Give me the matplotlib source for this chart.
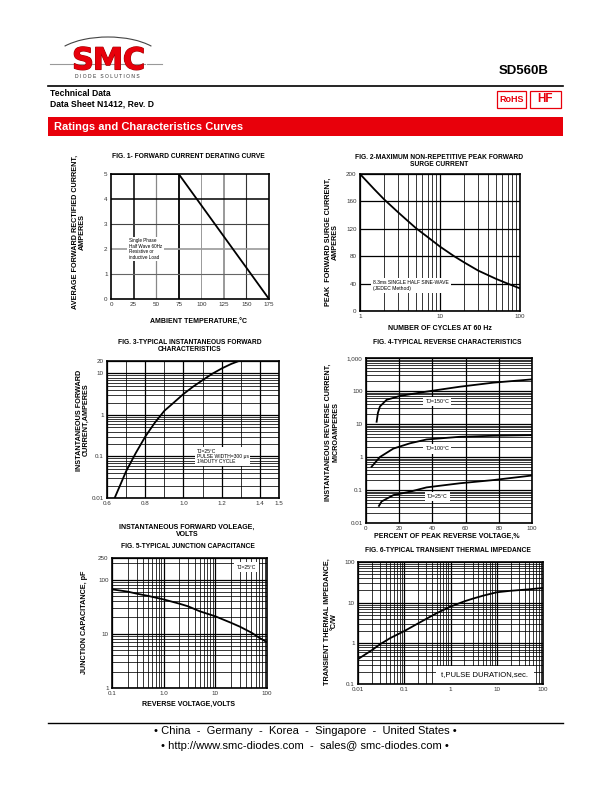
#import relevant libraries
import matplotlib.pyplot as plt
from matplotlib.patches import Rectangle, Arc, Polygon
from matplotlib.ticker import NullFormatter
import matplotlib.patheffects as pe

plt.rcParams['font.family'] = ['Liberation Sans', 'DejaVu Sans']

#fig 1 - derating curve
derate_temp = [0, 75, 175]
derate_amps = [5, 5, 0]

#fig 2 - surge current
surge_cycles = [1, 1.5, 2, 3, 4, 5, 7, 10, 15, 20, 30, 50, 70, 100]
surge_amps = [200, 178, 163, 144, 131, 121, 108, 94, 80, 71, 59, 47, 40, 33]

#fig 3 - forward characteristics
fwd_volts = [0.64, 0.7, 0.75, 0.8, 0.85, 0.9, 0.95, 1.0, 1.05, 1.1, 1.15, 1.2, 1.25, 1.29]
fwd_amps = [0.01, 0.044, 0.12, 0.3, 0.65, 1.26, 2.0, 3.2, 4.8, 6.9, 9.8, 13.2, 17, 20]

#fig 4 - reverse characteristics
rev_pct_150 = [6.4, 7.2, 8.4, 12.4, 20.5, 36.5, 56.6, 76.7, 100]
rev_ua_150 = [11.7, 22, 34, 54, 71, 96, 135, 179, 225]
rev_pct_100 = [3.4, 8.4, 16.5, 26.5, 36.5, 56.6, 76.7, 100]
rev_ua_100 = [0.51, 1.0, 1.8, 2.6, 3.4, 4.1, 4.4, 4.6]
rev_pct_25 = [7.8, 9.4, 16.5, 26.5, 36.5, 56.6, 76.7, 100]
rev_ua_25 = [0.033, 0.045, 0.07, 0.089, 0.12, 0.16, 0.2, 0.275]

#fig 5 - junction capacitance
cap_volts = [0.1, 0.2, 0.3, 0.5, 1, 2, 3, 5, 10, 20, 30, 50, 70, 100]
cap_pf = [66, 60, 55, 50, 43, 36, 32, 26, 21, 16, 13.5, 10.5, 8.5, 7]

#fig 6 - transient thermal impedance
pulse_sec = [0.01, 0.02, 0.03, 0.05, 0.1, 0.2, 0.3, 0.5, 1, 2, 3, 5, 10, 20, 50, 100]
zth = [0.41, 0.68, 0.95, 1.35, 2.0, 3.1, 4.0, 5.5, 8, 10.8, 12.5, 14.8, 18, 19.6, 21.3, 23]

W, H = 612, 792
RED = '#e8000b'
fig = plt.figure(figsize=(6.12, 7.92), dpi=100)

#page layer in pixel coordinates
page = fig.add_axes([0, 0, 1, 1])
page.set_xlim(0, W)
page.set_ylim(H, 0)
page.axis('off')

#logo
page.add_patch(Arc((108, 62), 112, 50, theta1=200, theta2=340, color='#444', lw=0.8))
page.plot([50, 162], [64, 64], color='#999', lw=0.8)
for ch, xc in zip('SMC', [83, 108, 134]):
    page.text(xc, 61, ch, color=RED, fontsize=22, fontweight='heavy', family='DejaVu Sans',
              ha='center', va='center',
              path_effects=[pe.withStroke(linewidth=0.8, foreground='#a00000')])
page.add_patch(Polygon([[139, 57.5], [139, 64.5], [145, 61]], closed=True, fill=False, ec='white', lw=0.6))
page.plot([145.5, 145.5], [57.5, 64.5], color='white', lw=0.6)
page.text(107, 77, 'D I O D E   S O L U T I O N S', fontsize=3.6, color='#333', ha='center', va='center')

#header
page.text(549, 71, 'SD560B', fontsize=9.5, fontweight='bold', ha='right', va='center')
page.plot([48, 563], [86, 86], color='black', lw=1.2)
page.text(50, 93, 'Technical Data', fontsize=6.2, fontweight='bold', va='center')
page.text(50, 104, 'Data Sheet N1412, Rev. D', fontsize=6.2, fontweight='bold', va='center')
page.add_patch(Rectangle((497, 91), 29, 17, fill=False, ec=RED, lw=0.9))
page.text(511.5, 99.5, 'RoHS', color=RED, fontsize=6.5, fontweight='bold', ha='center', va='center')
page.add_patch(Rectangle((530, 91), 31, 17, fill=False, ec=RED, lw=0.9))
page.text(545.5, 99.5, 'HF', color=RED, fontsize=8.5, fontweight='bold', ha='center', va='center')
page.add_patch(Rectangle((48, 117), 515, 19, color=RED, lw=0))
page.text(54, 126.5, 'Ratings and Characteristics Curves', color='white', fontsize=8, fontweight='bold', va='center')

#footer
page.plot([48, 563], [723, 723], color='black', lw=1.0)
page.text(305, 731, '\u2022 China  -  Germany  -  Korea  -  Singapore  -  United States \u2022', fontsize=8, ha='center', va='center')
page.text(305, 746, '\u2022 http://www.smc-diodes.com  -  sales@ smc-diodes.com \u2022', fontsize=8, ha='center', va='center')

def chart(x0, y0, x1, y1):
    ax = fig.add_axes([x0 / W, 1 - y1 / H, (x1 - x0) / W, (y1 - y0) / H])
    ax.tick_params(which='both', length=0, labelsize=4.5, labelcolor='#333', pad=2.5)
    for s in ax.spines.values():
        s.set_linewidth(1.2)
    return ax

def label(x, y, s, rot=0, size=5.2):
    page.text(x, y, s, rotation=rot, fontsize=size, fontweight='bold', ha='center', va='center',
              multialignment='center', linespacing=1.0)

def loggrid(ax):
    ax.grid(True, which='major', color='black', lw=0.9)
    ax.grid(True, which='minor', color='black', lw=0.55)
    ax.xaxis.set_minor_formatter(NullFormatter())
    ax.yaxis.set_minor_formatter(NullFormatter())

box = dict(fc='white', ec='none', pad=1.2)

#FIG 1
ax1 = chart(111, 174, 269, 299)
ax1.plot(derate_temp, derate_amps, color='black', lw=1.3, zorder=3)
ax1.set_xlim(0, 175)
ax1.set_ylim(0, 5)
ax1.set_xticks([0, 25, 50, 75, 100, 125, 150, 175])
ax1.set_yticks([0, 1, 2, 3, 4, 5])
for xv, c, w in zip([25, 50, 75, 100, 125, 150], ['k', '#888', 'k', '#999', '#888', '#333'], [1.1, 0.9, 1.3, 0.7, 1.2, 0.8]):
    ax1.axvline(xv, color=c, lw=w, zorder=1)
for yv, c, w in zip([1, 2, 3, 4], ['#666', '#999', '#444', 'k'], [0.8, 1.2, 0.8, 1.1]):
    ax1.axhline(yv, color=c, lw=w, zorder=1)
ax1.text(20, 2.0, 'Single Phase\nHalf Wave 60Hz\nResistive or\ninductive Load', fontsize=3.3,
         va='center', ha='left', linespacing=1.1, bbox=box, zorder=2)
label(188, 157, 'FIG. 1- FORWARD CURRENT DERATING CURVE', size=4.8)
label(79, 232, 'AVERAGE FORWARD RECTIFIED CURRENT,\nAMPERES', rot=90)
label(199, 322, 'AMBIENT TEMPERATURE,\u00b0C', size=5)

#FIG 2
ax2 = chart(360, 174, 520, 311)
ax2.set_xscale('log')
ax2.plot(surge_cycles, surge_amps, color='black', lw=1.3, zorder=3)
ax2.set_xlim(1, 100)
ax2.set_ylim(0, 200)
ax2.set_xticks([1, 10, 100], ['1', '10', '100'])
ax2.set_yticks([0, 40, 80, 120, 160, 200])
loggrid(ax2)
ax2.text(1.45, 37, '8.3ms SINGLE HALF SINE-WAVE\n(JEDEC Method)', fontsize=3.6, va='center', ha='left',
         linespacing=1.2, bbox=dict(fc='white', ec='none', pad=1.5), zorder=2)
label(439, 161, 'FIG. 2-MAXIMUM NON-REPETITIVE PEAK FORWARD\nSURGE CURRENT', size=4.8)
label(332, 242, 'PEAK  FORWARD SURGE CURRENT,\nAMPERES', rot=90)
label(440, 328, 'NUMBER OF CYCLES AT 60 Hz', size=5)

#FIG 3
ax3 = chart(107, 361, 279, 498)
ax3.set_yscale('log')
ax3.plot(fwd_volts, fwd_amps, color='black', lw=1.3, zorder=3)
ax3.set_xlim(0.6, 1.5)
ax3.set_ylim(0.01, 20)
ax3.set_xticks([0.6, 0.8, 1.0, 1.2, 1.4, 1.5], ['0.6', '0.8', '1.0', '1.2', '1.4', '1.5'])
ax3.set_xticks([0.7, 0.9, 1.1, 1.3], minor=True)
ax3.set_yticks([0.01, 0.1, 1, 10, 20], ['0.01', '0.1', '1', '10', '20'])
loggrid(ax3)
ax3.text(1.07, 0.1, 'TJ=25\u00b0C\nPULSE WIDTH=300 \u03bcs\n1%DUTY CYCLE', fontsize=3.6, va='center', ha='left',
         linespacing=1.1, bbox=box, zorder=2)
label(190, 346, 'FIG. 3-TYPICAL INSTANTANEOUS FORWARD\nCHARACTERISTICS', size=4.8)
label(83, 420, 'INSTANTANEOUS FORWARD\nCURRENT,AMPERES', rot=90)
label(187, 531, 'INSTANTANEOUS FORWARD VOLEAGE,\nVOLTS', size=5)

#FIG 4
ax4 = chart(366, 358, 532, 523)
ax4.set_yscale('log')
ax4.plot(rev_pct_150, rev_ua_150, color='black', lw=1.3, zorder=3)
ax4.plot(rev_pct_100, rev_ua_100, color='black', lw=1.3, zorder=3)
ax4.plot(rev_pct_25, rev_ua_25, color='black', lw=1.3, zorder=3)
ax4.set_xlim(0, 100)
ax4.set_ylim(0.01, 1000)
ax4.set_xticks([0, 20, 40, 60, 80, 100])
ax4.set_yticks([0.01, 0.1, 1, 10, 100, 1000], ['0.01', '0.1', '1', '10', '100', '1,000'])
loggrid(ax4)
ax4.text(43, 48, 'TJ=150\u00b0C', fontsize=3.8, ha='center', va='center', bbox=dict(fc='white', ec='none', pad=1.5), zorder=2)
ax4.text(43, 1.75, 'TJ=100\u00b0C', fontsize=3.8, ha='center', va='center', bbox=dict(fc='white', ec='none', pad=1.5), zorder=2)
ax4.text(43, 0.063, 'TJ=25\u00b0C', fontsize=3.8, ha='center', va='center', bbox=dict(fc='white', ec='none', pad=1.5), zorder=2)
label(447, 343, 'FIG. 4-TYPICAL REVERSE CHARACTERISTICS', size=4.8)
label(332, 432, 'INSTANTANEOUS REVERSE CURRENT,\nMICROAMPERES', rot=90)
label(447, 536, 'PERCENT OF PEAK REVERSE VOLTAGE,%', size=5)

#FIG 5
ax5 = chart(112, 558, 267, 688)
ax5.set_xscale('log')
ax5.set_yscale('log')
ax5.plot(cap_volts, cap_pf, color='black', lw=1.3, zorder=3)
ax5.set_xlim(0.1, 100)
ax5.set_ylim(1, 250)
ax5.set_xticks([0.1, 1, 10, 100], ['0.1', '1.0', '10', '100'])
ax5.set_yticks([1, 10, 100, 250], ['1', '10', '100', '250'])
loggrid(ax5)
ax5.text(40, 170, 'TJ=25\u00b0C', fontsize=3.6, ha='center', va='center', bbox=dict(fc='white', ec='none', pad=2), zorder=2)
label(188, 546, 'FIG. 5-TYPICAL JUNCTION CAPACITANCE', size=4.8)
label(84, 622, 'JUNCTION CAPACITANCE, pF', rot=90)
label(188, 704, 'REVERSE VOLTAGE,VOLTS', size=5)

#FIG 6
ax6 = chart(358, 562, 543, 684)
ax6.set_xscale('log')
ax6.set_yscale('log')
ax6.plot(pulse_sec, zth, color='black', lw=1.3, zorder=3)
ax6.set_xlim(0.01, 100)
ax6.set_ylim(0.1, 100)
ax6.set_xticks([0.01, 0.1, 1, 10, 100], ['0.01', '0.1', '1', '10', '100'])
ax6.set_yticks([0.1, 1, 10, 100], ['0.1', '1', '10', '100'])
loggrid(ax6)
ax6.text(5.5, 0.17, 't,PULSE DURATION,sec.', fontsize=5.5, ha='center', va='center',
         bbox=dict(fc='white', ec='none', pad=4), zorder=2)
label(448, 550, 'FIG. 6-TYPICAL TRANSIENT THERMAL IMPEDANCE', size=4.8)
label(331, 622, 'TRANSIENT THERMAL IMPEDANCE,\n\u00b0C/W', rot=90)

fig.savefig('out.png', dpi=100)
